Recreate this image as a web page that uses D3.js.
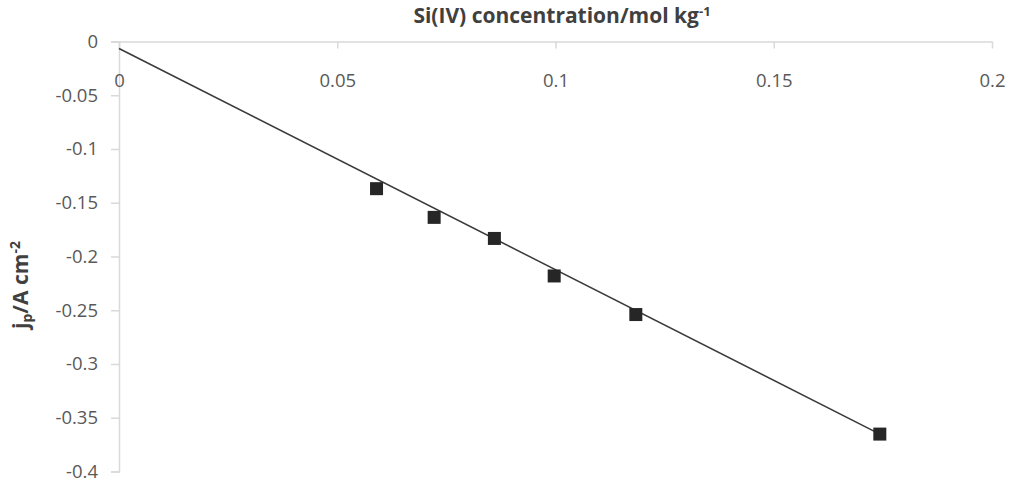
<!DOCTYPE html>
<html><head><meta charset="utf-8">
<script src="https://cdn.jsdelivr.net/npm/d3@7"></script>
<style>body{margin:0;background:#fff}svg{display:block}</style>
</head><body>
<svg id="c" width="1014" height="484"></svg>
<script>
const concentration = [0.0590, 0.0722, 0.0860, 0.0997, 0.1184, 0.1743];
const currentDensity = [-0.1369, -0.1636, -0.1832, -0.2181, -0.2540, -0.3652];
const fitLineX = [0, 0.1743];
const fitLineY = [-0.0065, -0.3652];
const xTicks = [0, 0.05, 0.1, 0.15, 0.2];
const yTicks = [0, -0.05, -0.1, -0.15, -0.2, -0.25, -0.3, -0.35, -0.4];

const svg = d3.select("#c");
const x = d3.scaleLinear().domain([0, 0.2]).range([119, 992]);
const y = d3.scaleLinear().domain([0, -0.4]).range([41.5, 471.5]);
const font = "'Open Sans', sans-serif";
const axisColor = "#d9d9d9", textColor = "#595959";
const fmt = d => String(d);

// y axis
const yAxis = svg.append("g").attr("transform", "translate(119,0)")
  .call(d3.axisLeft(y).tickValues(yTicks).tickSize(8).tickPadding(13).tickFormat(fmt));
yAxis.select(".domain").attr("stroke", axisColor).attr("stroke-width", 1.5);
yAxis.selectAll(".tick line").attr("stroke", axisColor).attr("stroke-width", 1.5);
yAxis.selectAll(".tick text").attr("fill", textColor).attr("font-family", font).attr("font-size", 18.5);

// x axis at y=0 (top), ticks pointing down
const xAxis = svg.append("g").attr("transform", `translate(0,${y(0)})`)
  .call(d3.axisBottom(x).tickValues(xTicks).tickSize(7).tickSizeOuter(0).tickPadding(25).tickFormat(fmt));
xAxis.select(".domain").attr("stroke", axisColor).attr("stroke-width", 1.5).attr("d", `M111,0.5H${x(0.2)}`);
xAxis.selectAll(".tick line").attr("stroke", axisColor).attr("stroke-width", 1.5);
xAxis.selectAll(".tick text").attr("fill", textColor).attr("font-family", font).attr("font-size", 18.5);

// fit line
svg.append("line")
  .attr("x1", x(fitLineX[0])).attr("y1", y(fitLineY[0]))
  .attr("x2", x(fitLineX[1])).attr("y2", y(fitLineY[1]))
  .attr("stroke", "#3a3a3a").attr("stroke-width", 1.5);

// markers
const s = 13;
svg.append("g").selectAll("rect").data(concentration).join("rect")
  .attr("x", (d) => x(d) - s/2)
  .attr("y", (d, i) => y(currentDensity[i]) - s/2)
  .attr("width", s).attr("height", s)
  .attr("fill", "#262626");

// titles
const t = svg.append("text").attr("x", 562).attr("y", 23).attr("text-anchor", "middle")
  .attr("font-family", font).attr("font-weight", "bold").attr("font-size", 21).attr("fill", "#404040");
t.append("tspan").text("Si(IV) concentration/mol kg");
t.append("tspan").attr("font-size", 13).attr("dy", -7).text("-1");

const yt = svg.append("text").attr("transform", "translate(28,285) rotate(-90)").attr("text-anchor", "middle")
  .attr("font-family", font).attr("font-weight", "bold").attr("font-size", 21).attr("fill", "#404040");
yt.append("tspan").text("j");
yt.append("tspan").attr("font-size", 14).attr("dy", 4).text("p");
yt.append("tspan").attr("dy", -4).text("/A cm");
yt.append("tspan").attr("font-size", 14).attr("dy", -8).text("-2");
</script>
</body></html>
